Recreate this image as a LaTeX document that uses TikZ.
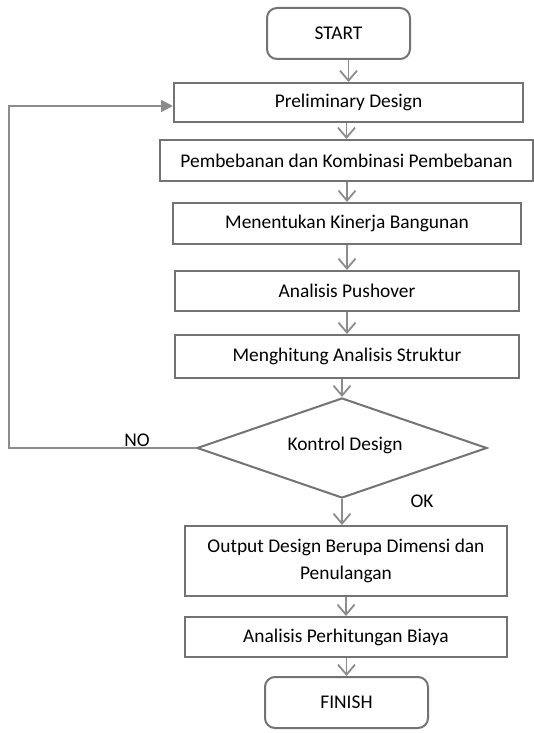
\documentclass[tikz,border=0pt]{standalone}
\usepackage{fontspec}
\setmainfont{Carlito}
\usetikzlibrary{shapes.geometric,arrows.meta}
\definecolor{boxgray}{RGB}{115,115,115}
\definecolor{arrgray}{RGB}{140,140,140}
\begin{document}
\begin{tikzpicture}[x=1pt,y=-1pt,
 every node/.style={font=\fontsize{19.4}{27.5}\selectfont, text=black},
 box/.style={draw=boxgray, line width=2pt, rectangle, inner sep=0pt},
 term/.style={box, rounded corners=10pt},
 dec/.style={draw=boxgray, line width=2pt, diamond, inner sep=0pt},
 flow/.style={draw=arrgray, line width=1.8pt, -{Straight Barb[length=10pt,width=17pt]}},
 back/.style={draw=arrgray, line width=1.8pt, -{Triangle[length=12pt,width=12pt]}},
 lbl/.style={inner sep=0pt}
]
\useasboundingbox (0,0) rectangle (534,733);
\node[term, minimum width=143pt, minimum height=51pt] (start) at (338.5,33.5) {START};
\node[box, minimum width=349pt, minimum height=39pt] (pre) at (348.5,102.5) {Preliminary Design};
\node[box, minimum width=373pt, minimum height=41pt] (pem) at (346.5,160.5) {Pembebanan dan Kombinasi Pembebanan};
\node[box, minimum width=348pt, minimum height=41pt] (men) at (347,223.5) {Menentukan Kinerja Bangunan};
\node[box, minimum width=344pt, minimum height=40pt] (push) at (347,291) {Analisis Pushover};
\node[box, minimum width=344pt, minimum height=43pt] (mh) at (347,356.5) {Menghitung Analisis Struktur};
\node[dec, minimum width=290pt, minimum height=100pt] (dia) at (342,448) {};
\node[lbl] (diat) at (345,445) {Kontrol Design};
\node[box, minimum width=322pt, minimum height=70pt, align=center] (out) at (346,561) {Output Design Berupa Dimensi dan\\Penulangan};
\node[box, minimum width=322pt, minimum height=40pt] (biaya) at (346,637) {Analisis Perhitungan Biaya};
\node[term, minimum width=163pt, minimum height=51pt] (finish) at (346.5,702.5) {FINISH};
\node[lbl] (no) at (137,440) {NO};
\node[lbl] (ok) at (422,501) {OK};
\coordinate (c1) at (9,448);
\coordinate (c2) at (9,106);
\draw[flow] (start.south -| pre.north) -- (pre.north);
\draw[flow] (pre.south -| pem.north) -- (pem.north);
\draw[flow] (pem.south -| men.north) -- (men.north);
\draw[flow] (men.south) -- (push.north);
\draw[flow] (push.south) -- (mh.north);
\draw[flow] (mh.south -| dia.north) -- (dia.north);
\draw[flow] (dia.south) -- (out.north -| dia.south);
\draw[flow] (out.south) -- (biaya.north);
\draw[flow] (biaya.south -| finish.north) -- (finish.north);
\draw[back] (dia.west) -- (c1) -- (c2) -- (c2 -| pre.west);
\end{tikzpicture}
\end{document}
